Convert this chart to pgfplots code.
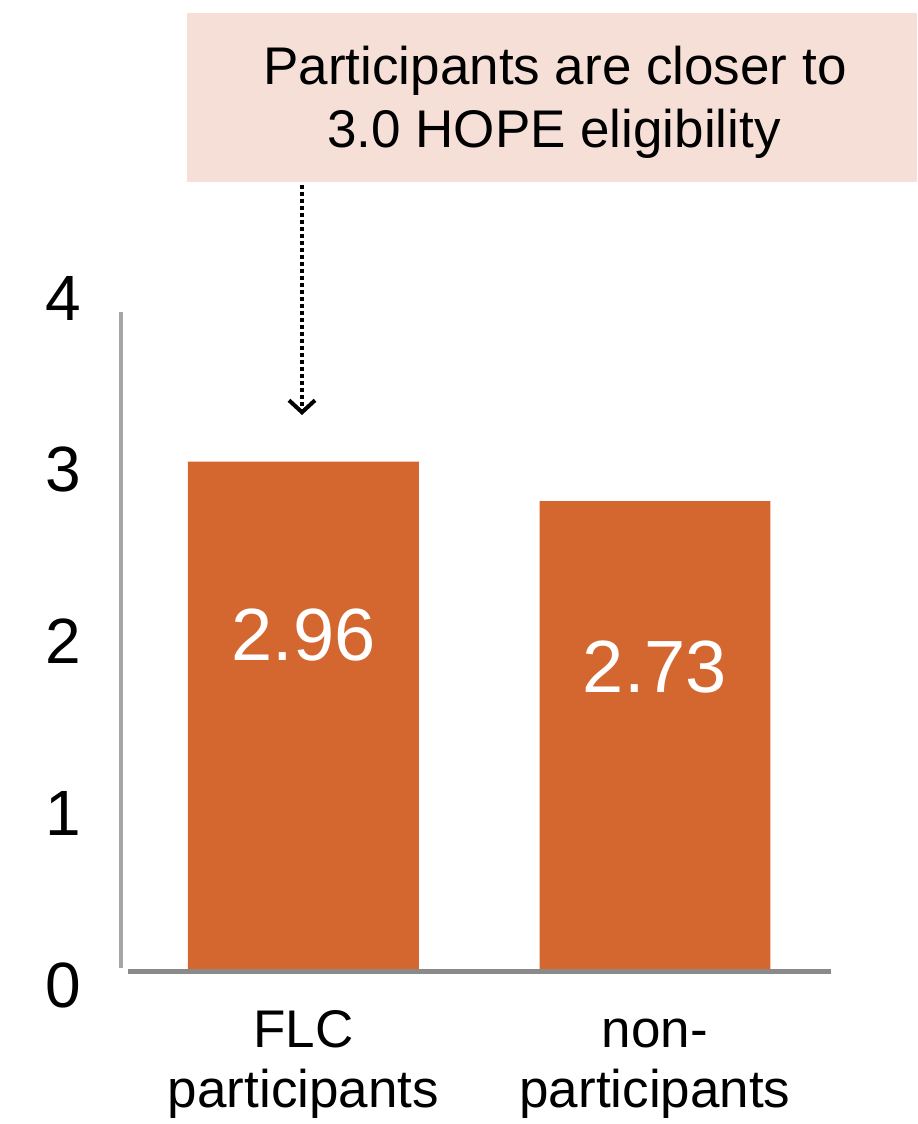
\documentclass[border=0pt]{standalone}
\usepackage{fontspec}
\setmainfont{Liberation Sans}
\usepackage{pgfplots}
\pgfplotsset{compat=1.18}
\usetikzlibrary{arrows.meta}

\definecolor{barorange}{HTML}{D4672F}
\definecolor{calloutfill}{HTML}{F6DFD6}
\definecolor{yaxisgray}{HTML}{A6A6A6}
\definecolor{xaxisgray}{HTML}{8A8A8A}

\begin{document}
\begin{tikzpicture}
% page frame: 458.5pt x 562pt, the axis corner at the origin
\useasboundingbox (-60.5pt,-77pt) rectangle (398pt,485pt);

\begin{axis}[
  at={(0,0)}, anchor=south west,
  scale only axis,
  width=355pt, height=343.5pt,
  xmin=-0.519, xmax=1.5007,
  ymin=0, ymax=4,
  ybar, bar width=0.657,
  clip=false,
  axis line style={draw=none},
  tick style={draw=none},
  major tick length=0pt,
  xtick={0,1},
  xticklabels={{\vphantom{Fl}FLC\\participants},{\vphantom{Fl}non-\\participants}},
  ytick={0,1,2,3,4},
  /pgf/number format/assume math mode=true,
  yticklabel style={font=\fontsize{32}{38}\selectfont, anchor=center,
                    xshift=-29pt, yshift=-7.5pt},
  xticklabel style={font=\fontsize{26.5}{30}\selectfont, align=center,
                    anchor=north, inner sep=0pt, yshift=-19.2pt},
]
  \addplot[fill=barorange, draw=none] coordinates {(0,2.96) (1,2.73)};

  % value labels inside the bars
  \node[text=white, font=\fontsize{37}{44}\selectfont] at (axis cs:0,1.95) {2.96};
  \node[text=white, font=\fontsize{37}{44}\selectfont] at (axis cs:1,1.764) {2.73};

  % axis lines
  \draw[yaxisgray, line width=2.25pt] (axis cs:-0.519,0.01) -- (axis cs:-0.519,3.831);
  \draw[xaxisgray, line width=2.5pt] (axis cs:-0.4993,-0.009) -- (axis cs:1.5007,-0.009);
\end{axis}

% callout with its pointer to the first bar (grid units: 0.5pt, y downwards)
\begin{scope}[x=0.5pt, y=-0.5pt, shift={(-60.5pt,485pt)}]
  \fill[calloutfill] (187,13) rectangle (917,182);
  \node[anchor=base, inner sep=0pt, font=\fontsize{26.5}{31.5}\selectfont]
    at (555,85) {Participants are closer to};
  \node[anchor=base, inner sep=0pt, font=\fontsize{26.5}{31.5}\selectfont]
    at (554,148) {3.0 HOPE eligibility};
  \draw[line width=2pt, dash pattern=on 2pt off 1.5pt,
        -{Straight Barb[length=6pt,width=13pt]}] (302,185) -- (302,415);
\end{scope}
\end{tikzpicture}
\end{document}
